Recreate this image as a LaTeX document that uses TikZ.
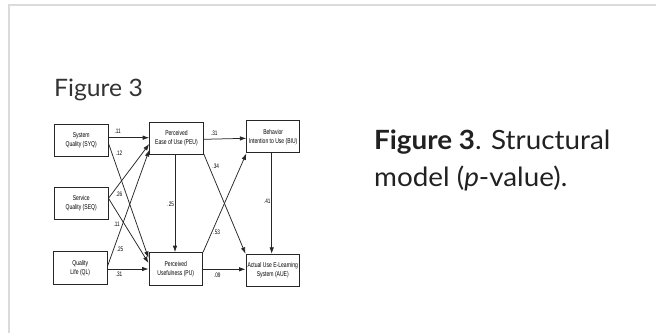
\documentclass[tikz,border=0pt]{standalone}
\usepackage{fontspec}
\setmainfont{Lato}
\newfontfamily\capfont[FakeStretch=1.05]{Lato}
\newfontfamily\titlefont[FakeStretch=1.03]{Lato}
\newfontfamily\diagfont[FakeStretch=0.72]{Liberation Sans}
\usetikzlibrary{arrows.meta}
\begin{document}
\begin{tikzpicture}[x=1pt,y=-1pt,
  model/.style={draw=black!85, line width=0.95pt, minimum width=53.6pt,
    minimum height=32.4pt, inner sep=0pt, align=center,
    font=\diagfont\fontsize{7}{9}\selectfont},
  conn/.style={draw=black!85, line width=0.75pt,
    -{Latex[length=6.5pt,width=4.5pt]}},
  coef/.style={inner sep=0pt, font=\diagfont\fontsize{6.5}{7}\selectfont},
  heading/.style={anchor=base west, inner sep=0pt},
]
\useasboundingbox (0,0) rectangle (656,333);
% panel frame (top and left edges only)
\draw[black!14, line width=2pt] (9,333) -- (9,5) -- (656,5);

% titles
\node[heading, font=\titlefont\fontsize{24}{28}\selectfont, text=black!80] (title) at (54,96.7) {Figure 3};
\node[heading, font=\capfont\fontsize{26.5}{37}\selectfont, text=black!87] (cap1) at (374,149.3) {\textbf{Figure 3}. Structural};
\node[heading, font=\capfont\fontsize{26.5}{37}\selectfont, text=black!87] (cap2) at (374,186) {model (\textit{p}-value).};

% constructs
\node[model] (SYQ) at (81.2,140.5) {System\\Quality (SYQ)};
\node[model] (SEQ) at (81.2,203.3) {Service\\Quality (SEQ)};
\node[model] (QL)  at (80.3,268)   {Quality\\Life (QL)};
\node[model] (PEU) at (176.5,138.3) {Perceived\\Ease of Use (PEU)};
\node[model] (PU)  at (175.8,268.8) {Perceived\\Usefulness (PU)};
\node[model, minimum width=52.7pt] (BIU) at (273.2,136.7) {Behavior\\Intention to Use (BIU)};
\node[model] (AUE) at (272.8,270.5) {Actual Use E-Learning\\System (AUE)};

% path start points
\coordinate (syqA) at ([yshift=2.8pt]SYQ.east);
\coordinate (syqB) at ([yshift=-2.8pt]SYQ.east);
\coordinate (seqA) at ([yshift=5pt]SEQ.east);
\coordinate (qlA)  at ([yshift=2pt]QL.east);
\coordinate (qlB)  at ([yshift=-1pt]QL.east);
\coordinate (peuS) at ([xshift=-1.5pt]PEU.south);
\coordinate (peuE) at ([yshift=-1pt]PEU.east);
\coordinate (puE)  at ([yshift=-0.5pt]PU.east);
\coordinate (biuS) at ([xshift=-1.5pt]BIU.south);

% structural paths
\draw[conn] (syqA) -- (syqA -| PEU.west);
\draw[conn] (syqB) -- ([yshift=10.8pt]PU.west);
\draw[conn] (seqA) -- ([yshift=-5.7pt]PEU.west);
\draw[conn] (seqA) -- ([yshift=5.8pt]PU.west);
\draw[conn] (qlA)  -- ([yshift=-11.7pt]PEU.west);
\draw[conn] (qlB)  -- (qlB -| PU.west);
\draw[conn] (peuS) -- (peuS |- PU.north);
\draw[conn] (peuE) -- ([yshift=-1.6pt]BIU.west);
\draw[conn] ([yshift=1pt]PEU.south east) -- (AUE.north west);
\draw[conn] (PU.north east) -- (BIU.south west);
\draw[conn] (puE)  -- (puE -| AUE.west);
\draw[conn] (biuS) -- (biuS |- AUE.north);

% path coefficients
\node[coef] (c1)  at (117.7,131.7) {.11};
\node[coef] (c2)  at (119,153.3)   {.12};
\node[coef] (c3)  at (119,194.3)   {.26};
\node[coef] (c4)  at (116.7,224)   {.11};
\node[coef] (c5)  at (120,249)     {.25};
\node[coef] (c6)  at (119,274.3)   {.31};
\node[coef] (c7)  at (170.7,204.3) {.25};
\node[coef] (c8)  at (214.3,133.3) {.31};
\node[coef] (c9)  at (215.7,166.7) {.34};
\node[coef] (c10) at (216.7,232.7) {.53};
\node[coef] (c11) at (217.3,275)   {.09};
\node[coef] (c12) at (267.3,201.7) {.41};
\end{tikzpicture}
\end{document}
